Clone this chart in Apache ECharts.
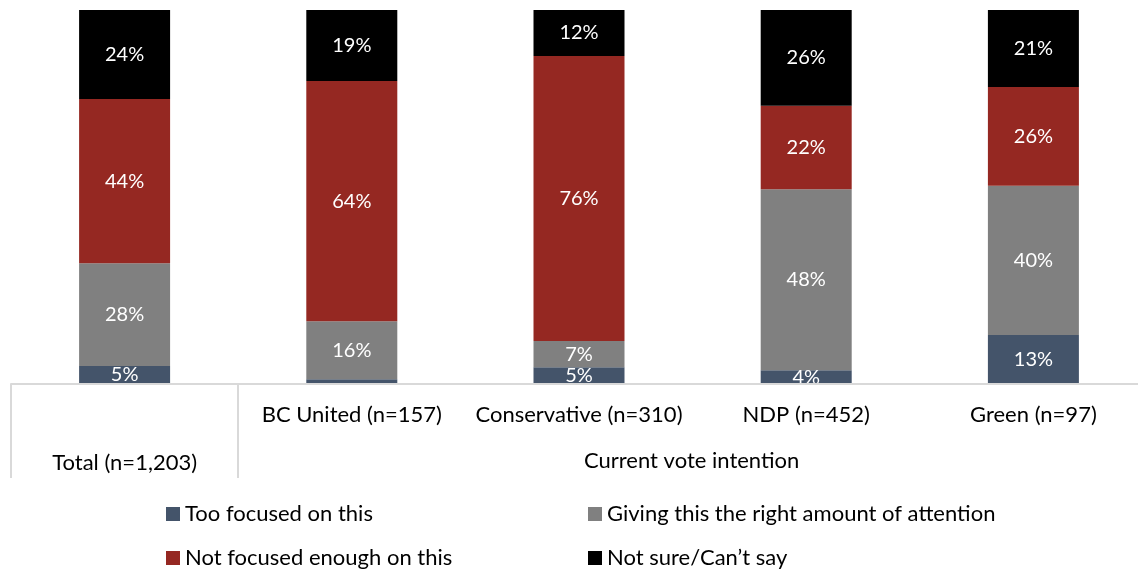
<!DOCTYPE html>
<html>
<head>
<meta charset="utf-8">
<script src="https://cdn.jsdelivr.net/npm/echarts@6/dist/echarts.min.js"></script>
<style>
html,body{margin:0;padding:0;background:#fff;}
#chart{width:1138px;height:571px;}
</style>
</head>
<body>
<div id="chart"></div>
<script>
const categories = ['Total (n=1,203)', 'BC United (n=157)', 'Conservative (n=310)', 'NDP (n=452)', 'Green (n=97)'];
const groupLabel = 'Current vote intention';
const seriesNames = ['Too focused on this', 'Giving this the right amount of attention', 'Not focused enough on this', 'Not sure/Can\u2019t say'];
const tooFocused = [4.8, 1.3, 4.5, 3.7, 13.1];
const rightAmount = [27.5, 15.5, 7.0, 48.4, 39.9];
const notEnough = [43.9, 64.2, 76.2, 22.3, 26.4];
const notSure = [23.8, 19.0, 12.3, 25.6, 20.6];
const colors = ['#44546A', '#808080', '#952822', '#000000'];

const FONT = 'Lato';
const chart = echarts.init(document.getElementById('chart'));

function barSeries(name, data, color) {
  return {
    name: name, type: 'bar', stack: 'all', data: data, barWidth: 91,
    itemStyle: { color: color },
    label: {
      show: true, position: 'inside', color: '#fff', fontFamily: FONT, fontSize: 20,
      formatter: p => p.value < 2 ? '' : Math.round(p.value) + '%'
    },
    emphasis: { disabled: true }
  };
}

const legendPos = [[166, 503], [588, 503], [166, 547], [588, 547]];

chart.setOption({
  animation: false,
  grid: { left: 11, top: 10, width: 1136, bottom: 187, containLabel: false, outerBoundsMode: 'none' },
  xAxis: {
    type: 'category', data: categories, z: 10,
    axisLine: { lineStyle: { color: '#d9d9d9', width: 2 } },
    axisTick: {
      show: true, length: 94, lineStyle: { color: '#d9d9d9', width: 2 },
      interval: function (i) { return i === 0 || i === 1; }
    },
    axisLabel: {
      interval: 0, margin: 19, color: '#000', fontFamily: FONT, fontSize: 22, lineHeight: 24,
      formatter: function (v, i) { return i === 0 ? '\n\n' + v : v; }
    }
  },
  yAxis: { type: 'value', min: 0, max: 100, show: false },
  legend: seriesNames.map((name, j) => ({
    data: [name], left: legendPos[j][0], top: legendPos[j][1], padding: 0,
    itemWidth: 14, itemHeight: 14, itemGap: 5, icon: 'rect',
    textStyle: { fontFamily: FONT, fontSize: 22, color: '#000' }, selectedMode: false
  })),
  graphic: [
    { type: 'rect', z: 5, shape: { x: 0, y: 385, width: 1138, height: 100 }, style: { fill: '#fff' }, silent: true },
    { type: 'text', z: 20, left: 584, top: 450, style: { text: groupLabel, fontFamily: FONT, fontSize: 22, fill: '#000' } }
  ],
  series: [
    barSeries(seriesNames[0], tooFocused, colors[0]),
    barSeries(seriesNames[1], rightAmount, colors[1]),
    barSeries(seriesNames[2], notEnough, colors[2]),
    barSeries(seriesNames[3], notSure, colors[3])
  ]
});
</script>
</body>
</html>
